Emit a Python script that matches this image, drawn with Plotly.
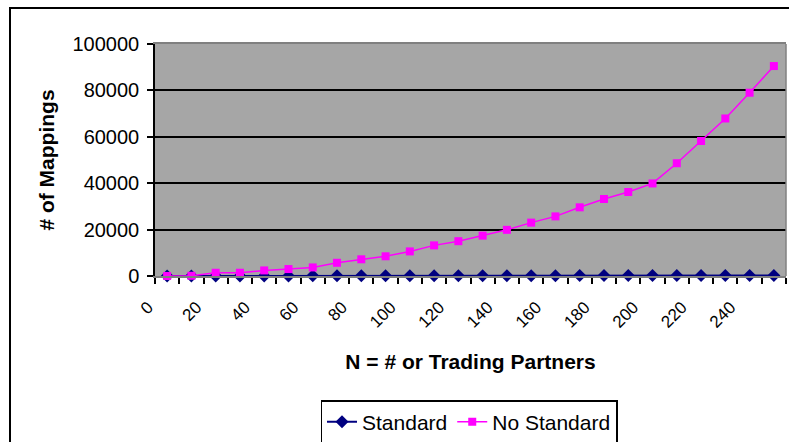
import plotly.graph_objects as go

# Data
partners = [0, 10, 20, 30, 40, 50, 60, 70, 80, 90, 100, 110, 120, 130, 140,
            150, 160, 170, 180, 190, 200, 210, 220, 230, 240, 250]
standard = [0, 10, 20, 30, 40, 50, 60, 70, 80, 90, 100, 110, 120, 130, 140,
            150, 160, 170, 180, 190, 200, 210, 220, 230, 240, 250]
no_standard = [0, 100, 1400, 1400, 2400, 3000, 3700, 5700, 7200, 8500, 10600,
               13200, 15000, 17400, 19900, 23000, 25700, 29600, 33200, 36200,
               39900, 48600, 58200, 67900, 79000, 90500]
x_tick_vals = [0, 20, 40, 60, 80, 100, 120, 140, 160, 180, 200, 220, 240]
x_tick_text = [str(v) for v in x_tick_vals]
y_tick_vals = [0, 20000, 40000, 60000, 80000, 100000]
y_tick_text = [str(v) for v in y_tick_vals]

FONT = "Arial, Liberation Sans, sans-serif"

fig = go.Figure()
fig.add_trace(go.Scatter(
    x=partners, y=standard, name="Standard", mode="lines+markers",
    line=dict(color="#000080", width=2),
    marker=dict(symbol="diamond", size=10, color="#000080"),
    cliponaxis=False,
))
fig.add_trace(go.Scatter(
    x=partners, y=no_standard, name="No Standard", mode="lines+markers",
    line=dict(color="#FF00FF", width=1.5),
    marker=dict(symbol="square", size=8, color="#FF00FF"),
    cliponaxis=False,
))

fig.update_layout(
    width=789, height=442,
    margin=dict(l=155, r=3, t=44, b=166),
    paper_bgcolor="white",
    plot_bgcolor="#A6A6A6",
    font=dict(family=FONT, color="black", size=17),
    showlegend=True,
    legend=dict(
        orientation="h",
        xref="container", yref="container",
        x=469 / 789, xanchor="center",
        y=(442 - 422) / 442, yanchor="middle",
        bordercolor="black", borderwidth=1.5, bgcolor="white",
        font=dict(size=21, family=FONT),
        itemwidth=30,
    ),
    xaxis=dict(
        range=[-5, 255],
        tickmode="array", tickvals=x_tick_vals, ticktext=x_tick_text,
        ticks="", tickangle=-45, ticklabelstandoff=13, ticklabelshift=-19,
        tickfont=dict(size=17, family=FONT),
        showgrid=False, zeroline=False,
        showline=True, linecolor="#808080", linewidth=1.5, mirror=True,
        minor=dict(tick0=-5, dtick=10, ticks="outside", ticklen=6,
                   tickcolor="black", tickwidth=1.5, showgrid=False),
        title=dict(text="<b>N = # or Trading Partners</b>",
                   font=dict(size=21, family=FONT), standoff=24),
    ),
    yaxis=dict(
        range=[0, 100000],
        tickmode="array", tickvals=y_tick_vals, ticktext=y_tick_text,
        ticks="outside", ticklen=6, tickcolor="black", tickwidth=1.5,
        ticklabelstandoff=4,
        tickfont=dict(size=20, family=FONT),
        showgrid=True, gridcolor="black", gridwidth=1.5,
        zeroline=False,
        showline=True, linecolor="black", linewidth=1.5,
        title=dict(text="<b># of Mappings</b>",
                   font=dict(size=21, family=FONT), standoff=12),
    ),
    shapes=[
        # right border of plot area
        dict(type="line", xref="paper", yref="paper", x0=1, x1=1, y0=0, y1=1,
             line=dict(color="#808080", width=1.5)),
        # outer chart border
        dict(type="rect", xref="paper", yref="paper",
             x0=(10 - 155) / 631, x1=(800 - 155) / 631,
             y0=(276 - 460) / 232, y1=(276 - 8) / 232,
             line=dict(color="black", width=2)),
    ],
)

fig.write_html("out.html")
